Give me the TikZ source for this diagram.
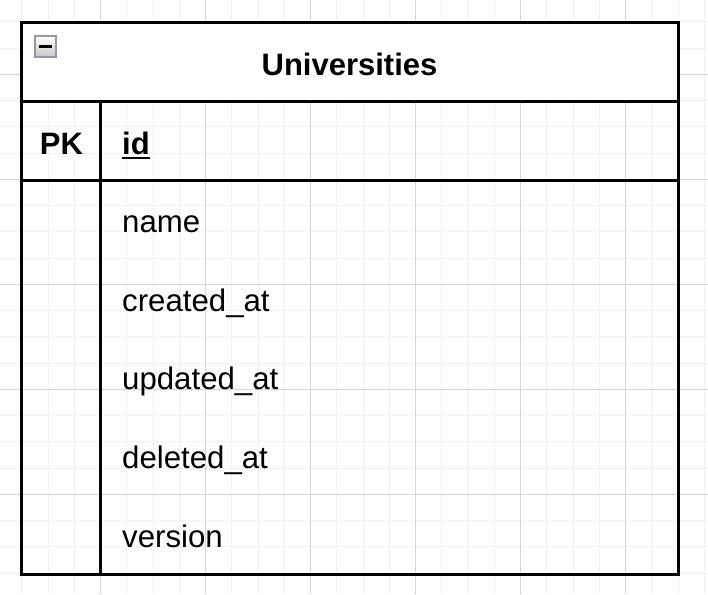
\documentclass[tikz,border=0pt]{standalone}
\usepackage{fontspec}
\setmainfont{Liberation Sans}
\definecolor{iconedge}{RGB}{146,152,166}
\begin{document}
\begin{tikzpicture}[x=1pt, y=-1pt]
\tikzstyle{every node}=[inner sep=0pt, font=\fontsize{31.2}{37}\selectfont];
\tikzstyle{field}=[anchor=base west];
\tikzstyle{keytext}=[font=\fontsize{31}{37}\selectfont\bfseries];
\tikzstyle{minorline}=[draw=black!5, line width=1pt];
\tikzstyle{majorline}=[draw=black!16, line width=1pt];
\tikzstyle{border}=[draw=black, line width=3pt];
\useasboundingbox (0,0) rectangle (708,594);
% grid
\foreach \i in {0,...,27}
{
\draw[minorline] (-4.3+26.25*\i,0) -- (-4.3+26.25*\i,594);
}
\foreach \j in {0,...,22}
{
\draw[minorline] (0,-4.45+26.25*\j) -- (708,-4.45+26.25*\j);
}
\foreach \i in {0,...,6}
{
\draw[majorline] (-4.3+105*\i,0) -- (-4.3+105*\i,594);
}
\foreach \j in {0,...,4}
{
\draw[majorline] (0,74.3+105*\j) -- (708,74.3+105*\j);
}
% table
\fill[white] (21,23) rectangle (678,101);
\draw[border] (21,23) rectangle (678,574);
\draw[border] (21,101) -- (678,101) (21,180) -- (678,180) (100.5,101) -- (100.5,574);
% collapse icon
\shade[top color=white, bottom color=black!22, draw=iconedge, line width=2pt] (35,36) rectangle (56,57);
\draw[line width=2.5pt] (39,46.5) -- (52,46.5);
% texts
\node[keytext, anchor=base] (title) at (349.5,75) {Universities};
\node[keytext, anchor=base] (pk) at (61.5,154.3) {PK};
\node[keytext, field] (id) at (122,154.3) {id};
\draw[line width=2pt] ([yshift=-3.5pt]id.base west) -- ([yshift=-3.5pt]id.base east);
\foreach \txt [count=\k] in {name, created\_at, updated\_at, deleted\_at, version}
{
\node[field] (f\k) at (122,232.3+78.7*\k-78.7) {\txt};
}
\end{tikzpicture}
\end{document}
